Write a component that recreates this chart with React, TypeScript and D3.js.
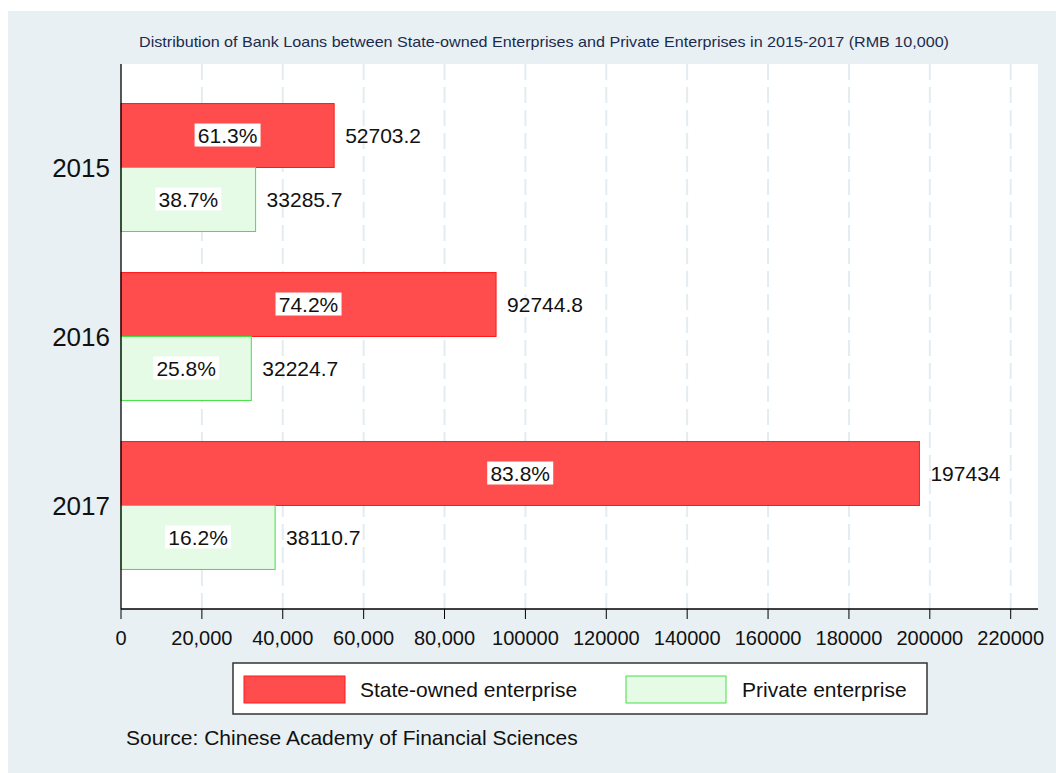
import * as d3 from 'd3';

const years = ['2015', '2016', '2017'];
const stateValues = [52703.2, 92744.8, 197434];
const privateValues = [33285.7, 32224.7, 38110.7];
const stateLabels = ['52703.2', '92744.8', '197434'];
const privateLabels = ['33285.7', '32224.7', '38110.7'];
const statePct = ['61.3%', '74.2%', '83.8%'];
const privatePct = ['38.7%', '25.8%', '16.2%'];
const xTicks = [0, 20000, 40000, 60000, 80000, 100000, 120000, 140000, 160000, 180000, 200000, 220000];
const xTickLabels = ['0', '20,000', '40,000', '60,000', '80,000', '100000', '120000', '140000', '160000', '180000', '200000', '220000'];
const seriesNames = ['State-owned enterprise', 'Private enterprise'];

const W = 1056;
const H = 773;
const plot = { left: 121, right: 1038, top: 64, bottom: 609 };
const font = 'Liberation Sans, Arial, sans-serif';

const RED_FILL = '#ff4c4c';
const RED_STROKE = '#ff1a1a';
const GREEN_FILL = '#e5fbe5';
const GREEN_STROKE = '#44e044';

export default function App() {
  const x = d3.scaleLinear().domain([0, 226750]).range([plot.left, plot.right]);
  const y = d3.scaleBand<string>()
    .domain(years)
    .range([plot.top, plot.bottom])
    .paddingInner(0.243)
    .paddingOuter(0.234);
  const half = y.bandwidth() / 2;

  const bars = years.flatMap((yr, i) => [
    { yr, kind: 'state', v: stateValues[i], label: stateLabels[i], pct: statePct[i], y0: y(yr)!, fill: RED_FILL, stroke: RED_STROKE },
    { yr, kind: 'private', v: privateValues[i], label: privateLabels[i], pct: privatePct[i], y0: y(yr)! + half, fill: GREEN_FILL, stroke: GREEN_STROKE },
  ]);

  return (
    <svg width={W} height={H} style={{ position: 'absolute', left: 0, top: 0, display: 'block' }} fontFamily={font}>
      <rect x={0} y={0} width={W} height={H} fill="#ffffff" />
      <rect x={8} y={11} width={W - 8} height={H - 11} fill="#e8f0f3" />
      <rect x={plot.left} y={plot.top} width={plot.right - plot.left} height={plot.bottom - plot.top} fill="#ffffff" />

      <text x={139} y={47} fontSize={15} fill="#1c2b4d" textLength={810} lengthAdjust="spacingAndGlyphs">
        Distribution of Bank Loans between State-owned Enterprises and Private Enterprises in 2015-2017 (RMB 10,000)
      </text>

      {/* gridlines */}
      {xTicks.slice(1).map(t => (
        <line key={'g' + t} x1={x(t)} x2={x(t)} y1={plot.top} y2={plot.bottom}
          stroke="#e3ecf0" strokeWidth={2} strokeDasharray="16,7" />
      ))}

      {/* bars */}
      {bars.map(b => {
        const x1 = x(b.v);
        const cy = b.y0 + half / 2;
        const cx = (x(0) + x1) / 2;
        return (
          <g key={b.yr + b.kind}>
            <rect x={x(0)} y={b.y0} width={x1 - x(0)} height={half} fill={b.fill} stroke={b.stroke} strokeWidth={1} />
            <rect x={cx - 33} y={cy - 12} width={66} height={23} fill="#ffffff" />
            <text x={cx} y={cy} dy="0.35em" textAnchor="middle" fontSize={21} fill="#111">{b.pct}</text>
            <text x={x1 + 11} y={cy} dy="0.35em" fontSize={21} fill="#111">{b.label}</text>
          </g>
        );
      })}

      {/* axes */}
      <line x1={plot.left} x2={plot.left} y1={plot.top} y2={plot.bottom} stroke="#000" strokeWidth={1.3} />
      <line x1={plot.left} x2={plot.right} y1={plot.bottom} y2={plot.bottom} stroke="#000" strokeWidth={1.3} />
      {xTicks.map((t, i) => (
        <g key={'t' + t}>
          <line x1={x(t)} x2={x(t)} y1={plot.bottom} y2={plot.bottom + 10} stroke="#000" strokeWidth={1} />
          <text x={x(t)} y={638} dy="0.35em" textAnchor="middle" fontSize={20} fill="#111">{xTickLabels[i]}</text>
        </g>
      ))}
      {years.map(yr => (
        <text key={'y' + yr} x={110} y={y(yr)! + half} dy="0.35em" textAnchor="end" fontSize={26} fill="#111">{yr}</text>
      ))}

      {/* legend */}
      <rect x={233} y={663} width={694} height={51} fill="#ffffff" stroke="#333" strokeWidth={1.5} />
      <rect x={244} y={676} width={101} height={27} fill={RED_FILL} stroke={RED_STROKE} strokeWidth={1} />
      <text x={360} y={690} dy="0.35em" fontSize={21} fill="#111">{seriesNames[0]}</text>
      <rect x={626} y={676} width={100} height={27} fill={GREEN_FILL} stroke={GREEN_STROKE} strokeWidth={1} />
      <text x={742} y={690} dy="0.35em" fontSize={21} fill="#111">{seriesNames[1]}</text>

      <text x={126} y={738} dy="0.35em" fontSize={21} fill="#111">Source: Chinese Academy of Financial Sciences</text>
    </svg>
  );
}
